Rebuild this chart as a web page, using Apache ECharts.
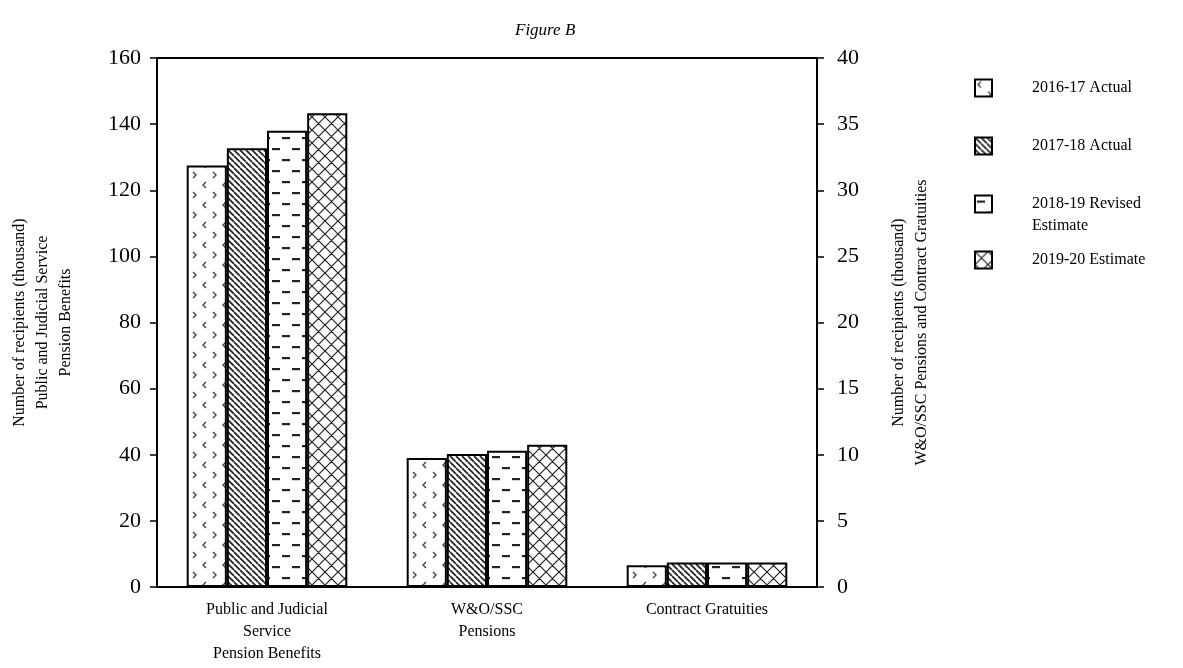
<!DOCTYPE html>
<html>
<head>
<meta charset="utf-8">
<script src="https://cdn.jsdelivr.net/npm/echarts@6/dist/echarts.min.js"></script>
<style>
html,body{margin:0;padding:0;background:#fff;}
#chart{width:1183px;height:668px;}
</style>
</head>
<body>
<div id="chart"></div>
<script>
// ---- data ----
var categories = ['Public and Judicial\nService\nPension Benefits', 'W&O/SSC\nPensions', 'Contract Gratuities'];
var seriesNames = ['2016-17 Actual', '2017-18 Actual', '2018-19 Revised Estimate', '2019-20 Estimate'];
// thousand recipients, left axis
var pensionBenefits = [127.5, 132.7, 138.0, 143.3];
// thousand recipients, right axis
var woSscPensions = [9.75, 10.05, 10.3, 10.75];
var contractGratuities = [1.65, 1.85, 1.85, 1.85];
var leftTicks = [0, 20, 40, 60, 80, 100, 120, 140, 160];
var rightTicks = [0, 5, 10, 15, 20, 25, 30, 35, 40];

var FONT = '"Liberation Serif", "Times New Roman", serif';

// ---- patterns ----
function makeTile(w, h, draw) {
  var c = document.createElement('canvas');
  c.width = w; c.height = h;
  var ctx = c.getContext('2d');
  ctx.fillStyle = '#fff';
  ctx.fillRect(0, 0, w, h);
  draw(ctx, w, h);
  return {image: c, repeat: 'repeat'};
}
var pat1 = makeTile(20, 20, function (ctx) {
  ctx.strokeStyle = '#444'; ctx.lineWidth = 1.4;
  ctx.beginPath();
  ctx.moveTo(6, 2); ctx.lineTo(3, 5); ctx.lineTo(6, 8);
  ctx.moveTo(13, 12); ctx.lineTo(16, 15); ctx.lineTo(13, 18);
  ctx.stroke();
});
var pat2 = makeTile(6, 6, function (ctx, w, h) {
  ctx.strokeStyle = '#222'; ctx.lineWidth = 1.7;
  ctx.beginPath();
  for (var k = -1; k <= 1; k++) { ctx.moveTo(k * w, 0); ctx.lineTo(k * w + w, h); }
  ctx.stroke();
});
var pat3 = makeTile(20, 22, function (ctx) {
  ctx.fillStyle = '#222';
  ctx.fillRect(2, 5, 8, 2.2);
  ctx.fillRect(12, 16, 8, 2.2);
});
var pat4 = makeTile(13, 13, function (ctx, w, h) {
  ctx.strokeStyle = '#222'; ctx.lineWidth = 1.2;
  ctx.beginPath();
  for (var k = -1; k <= 1; k++) {
    ctx.moveTo(k * w, 0); ctx.lineTo(k * w + w, h);
    ctx.moveTo(k * w + w, 0); ctx.lineTo(k * w, h);
  }
  ctx.stroke();
});
var patterns = [pat1, pat2, pat3, pat4];

// ---- series ----
var series = [];
seriesNames.forEach(function (name, i) {
  var style = {color: patterns[i], borderColor: '#000', borderWidth: 2};
  series.push({
    name: name, type: 'bar', xAxisIndex: 0, yAxisIndex: 0,
    barGap: '0%', barCategoryGap: '27%',
    itemStyle: style, emphasis: {disabled: true}, animation: false,
    data: [pensionBenefits[i], '-', '-']
  });
});
seriesNames.forEach(function (name, i) {
  var style = {color: patterns[i], borderColor: '#000', borderWidth: 2};
  series.push({
    name: name, type: 'bar', xAxisIndex: 1, yAxisIndex: 1,
    barGap: '0%', barCategoryGap: '27%',
    itemStyle: style, emphasis: {disabled: true}, animation: false,
    data: ['-', woSscPensions[i], contractGratuities[i]]
  });
});

// ---- legends ----
var legendTops = [78, 136, 171, 250];
var legends = seriesNames.map(function (name, i) {
  var multi = (i === 2);
  return {
    data: [name], orient: 'vertical', left: 974, top: legendTops[i],
    padding: 0, itemWidth: 17, itemHeight: 17, icon: 'rect',
    selectedMode: false,
    formatter: multi ? function () { return '\n2018-19 Revised\nEstimate'; } : undefined,
    textStyle: {
      fontFamily: FONT, fontSize: 16, color: '#000',
      lineHeight: multi ? 22 : 20,
      padding: [0, 0, 0, 35]
    }
  };
});

var chart = echarts.init(document.getElementById('chart'), null, {renderer: 'canvas'});
chart.setOption({
  backgroundColor: '#fff',
  animation: false,
  title: {
    text: 'Figure B', left: 510, top: 17,
    textStyle: {fontFamily: FONT, fontStyle: 'italic', fontWeight: 'normal', fontSize: 17, color: '#000'}
  },
  legend: legends,
  grid: {left: 156, top: 58, width: 661, height: 529, containLabel: false},
  xAxis: [{
    type: 'category', data: categories, position: 'bottom',
    axisLine: {show: true, lineStyle: {color: '#000', width: 2}},
    axisTick: {show: false},
    axisLabel: {fontFamily: FONT, fontSize: 16, color: '#000', lineHeight: 22, margin: 12, interval: 0}
  }, {
    type: 'category', data: categories, position: 'top',
    axisLine: {show: true, onZero: false, lineStyle: {color: '#000', width: 2}},
    axisTick: {show: false}, axisLabel: {show: false}
  }],
  yAxis: [{
    type: 'value', position: 'left', min: leftTicks[0], max: leftTicks[leftTicks.length - 1], interval: 20,
    splitLine: {show: false},
    axisLine: {show: true, lineStyle: {color: '#000', width: 2}},
    axisTick: {show: true, length: 7, lineStyle: {color: '#000', width: 1.5}},
    axisLabel: {fontFamily: FONT, fontSize: 22, color: '#000', margin: 16},
    name: 'Number of recipients (thousand)\nPublic and Judicial Service\nPension Benefits',
    nameLocation: 'middle', nameRotate: 90, nameGap: 80,
    nameTextStyle: {fontFamily: FONT, fontSize: 16, color: '#000', lineHeight: 23}
  }, {
    type: 'value', position: 'right', min: rightTicks[0], max: rightTicks[rightTicks.length - 1], interval: 5,
    splitLine: {show: false},
    axisLine: {show: true, lineStyle: {color: '#000', width: 2}},
    axisTick: {show: true, length: 7, lineStyle: {color: '#000', width: 1.5}},
    axisLabel: {fontFamily: FONT, fontSize: 22, color: '#000', margin: 20},
    name: 'Number of recipients (thousand)\nW&O/SSC Pensions and Contract Gratuities',
    nameLocation: 'middle', nameRotate: 90, nameGap: 70,
    nameTextStyle: {fontFamily: FONT, fontSize: 16, color: '#000', lineHeight: 23}
  }],
  series: series
});
</script>
</body>
</html>
